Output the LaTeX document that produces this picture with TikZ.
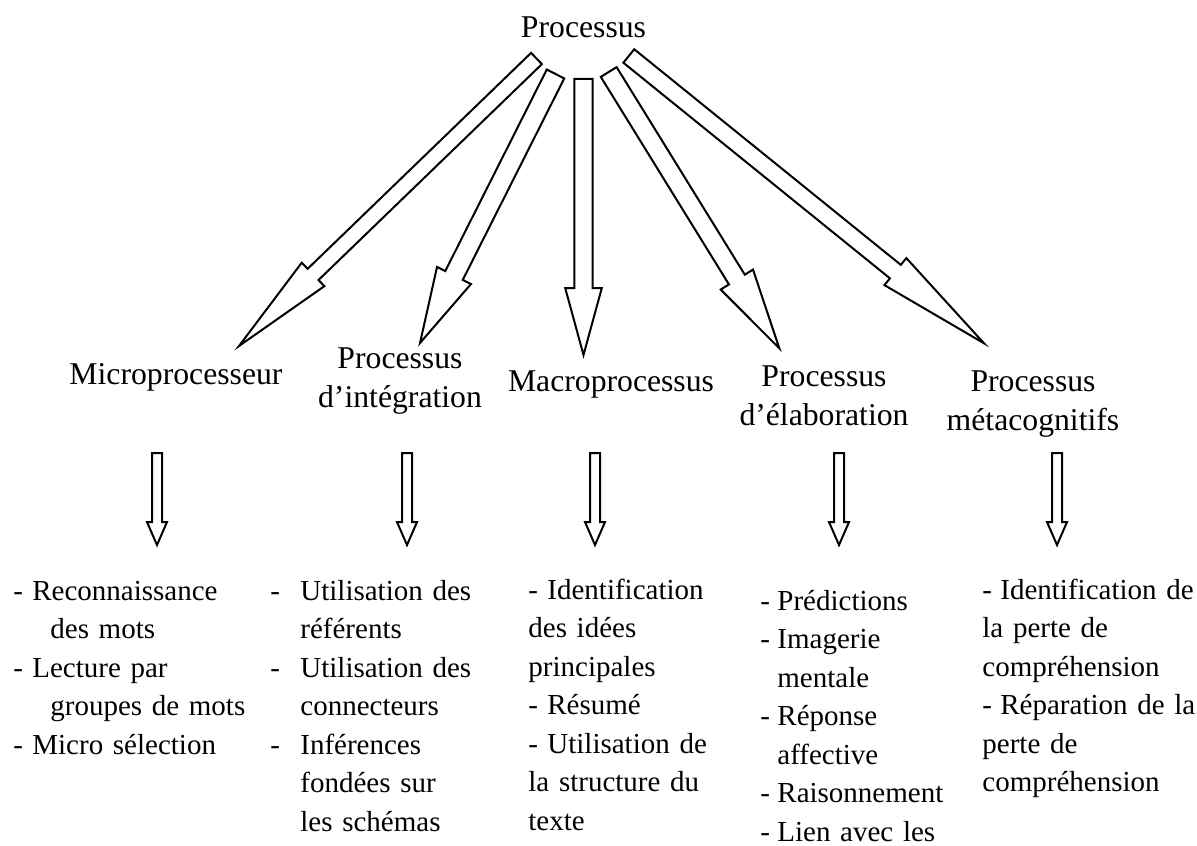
\documentclass[tikz,border=0pt]{standalone}
\usepackage{fontspec}
\setmainfont{Liberation Serif}
\usetikzlibrary{calc}
\newcommand\blockarrow[5]{% #1 tail, #2 tip, #3 shaft half width, #4 head half width, #5 head length
  \coordinate (#1b) at ($(#2)!#5!(#1)$);
  \draw[barrow] ($(#1)!#3!90:(#2)$) -- ($(#1b)!#3!90:(#2)$) -- ($(#1b)!#4!90:(#2)$) -- (#2)
    -- ($(#1b)!#4!-90:(#2)$) -- ($(#1b)!#3!-90:(#2)$) -- ($(#1)!#3!-90:(#2)$) -- cycle;}
\newcommand\lead[1]{\makebox[#1][l]{-}}
\begin{document}
\begin{tikzpicture}[x=0.5pt,y=-0.5pt,
  barrow/.style={draw=black,line width=1pt,fill=white,line join=miter},
  titletxt/.style={font=\fontsize{15.85}{19.8}\selectfont,inner sep=0pt,anchor=base},
  lbl/.style={font=\fontsize{15.85}{19.8}\selectfont,inner sep=0pt,align=center,text width=110pt,anchor=base},
  lst/.style={font=\fontsize{14.5}{19.25}\selectfont,inner sep=0pt,align=left,text width=125pt,anchor=base west}]
\useasboundingbox (0,0) rectangle (1197,845);

% title
\node[titletxt] (proc) at (583.5,38) {Processus};

% second-level labels
\node[lbl] (l1) at (176,384) {Microprocesseur};
\node[lbl] (l2) at (400,368) {Processus\\d’intégration};
\node[lbl] (l3) at (611,391) {Macroprocessus};
\node[lbl] (l4) at (824,386) {Processus\\d’élaboration};
\node[lbl] (l5) at (1033,391) {Processus\\métacognitifs};

% lists
\node[lst] (c1) at (13,600) {\lead{9.5pt}Reconnaissance\\
  \hspace*{18.5pt}des mots\\
  \lead{9.5pt}Lecture par\\
  \hspace*{18.5pt}groupes de mots\\
  \lead{9.5pt}Micro sélection};
\node[lst] (c2) at (270,600) {\lead{15pt}Utilisation des\\
  \hspace*{15pt}référents\\
  \lead{15pt}Utilisation des\\
  \hspace*{15pt}connecteurs\\
  \lead{15pt}Inférences\\
  \hspace*{15pt}fondées sur\\
  \hspace*{15pt}les schémas};
\node[lst] (c3) at (528,599) {\lead{9.5pt}Identification\\
  des idées\\
  principales\\
  \lead{9.5pt}Résumé\\
  \lead{9.5pt}Utilisation de\\
  la structure du\\
  texte};
\node[lst] (c4) at (760,610) {\lead{8.5pt}Prédictions\\
  \lead{8.5pt}Imagerie\\
  \hspace*{8.5pt}mentale\\
  \lead{8.5pt}Réponse\\
  \hspace*{8.5pt}affective\\
  \lead{8.5pt}Raisonnement\\
  \lead{8.5pt}Lien avec les};
\node[lst] (c5) at (982,599) {\lead{9pt}Identification de\\
  la perte de\\
  compréhension\\
  \lead{9pt}Réparation de la\\
  perte de\\
  compréhension};

% big arrows from title to labels
\coordinate (t1) at (536.5,58.5); \coordinate (e1) at (239,346);
\coordinate (t2) at (555.5,74);   \coordinate (e2) at (420,343);
\coordinate (t3) at (583.5,79);   \coordinate (e3) at (583.5,355);
\coordinate (t4) at (608.7,72);   \coordinate (e4) at (779.3,348.3);
\coordinate (t5) at (628.8,56);   \coordinate (e5) at (984,343.3);
\blockarrow{t1}{e1}{3.9pt}{8.15pt}{51.5pt}
\blockarrow{t2}{e2}{4.9pt}{9.5pt}{37.8pt}
\blockarrow{t3}{e3}{4.6pt}{9.15pt}{33.5pt}
\blockarrow{t4}{e4}{4.65pt}{9.5pt}{40.4pt}
\blockarrow{t5}{e5}{4.33pt}{8.7pt}{57pt}

% small arrows from labels to lists
\foreach \i/\x in {1/157,2/407,3/595,4/839,5/1057}{
  \coordinate (s\i) at (\x,453);
  \coordinate (d\i) at (\x,545);
  \blockarrow{s\i}{d\i}{2.5pt}{5pt}{11.5pt}
}
\end{tikzpicture}
\end{document}
